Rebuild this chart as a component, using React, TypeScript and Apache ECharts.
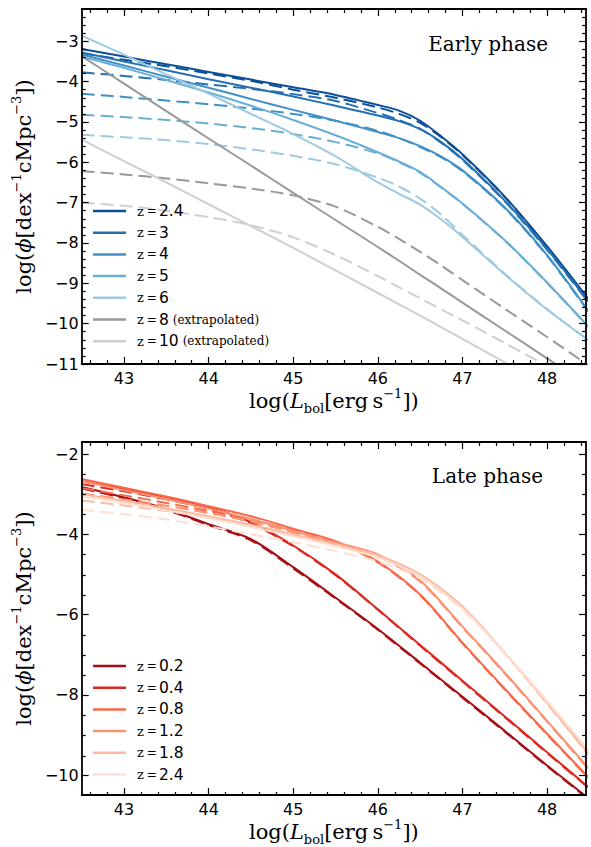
import React, { useEffect, useRef } from "react";
import * as echarts from "echarts";

// ---------- axes / ticks ----------
const X_MIN = 42.5;
const X_MAX = 48.46;
const X_TICKS = [43, 44, 45, 46, 47, 48];
const YE_MIN = -11;
const YE_MAX = -2.2;
const YE_TICKS = [-3, -4, -5, -6, -7, -8, -9, -10, -11];
const YL_MIN = -10.5;
const YL_MAX = -1.7;
const YL_TICKS = [-2, -4, -6, -8, -10];

// ---------- Early phase ----------
const L_EARLY = [42.5, 43, 43.5, 44, 44.5, 45, 45.5, 46, 46.25, 46.5, 46.75, 47, 47.5, 48, 48.5];
const EARLY_Z = ["2.4", "3", "4", "5", "6", "8", "10"];
const EARLY_EXTRAP = [false, false, false, false, false, true, true];
const EARLY_COLORS = ["#0b4f98", "#2470b3", "#4191c6", "#6aaed6", "#9ecae1", "#999999", "#cfcfcf"];
const E_Z24_SOLID = [-3.19, -3.38, -3.57, -3.76, -3.95, -4.14, -4.33, -4.58, -4.72, -4.97, -5.36, -5.8, -6.85, -8.08, -9.42];
const E_Z24_DASH = [-3.3, -3.46, -3.62, -3.8, -3.98, -4.2, -4.4, -4.64, -4.8, -5.02, -5.38, -5.82, -6.86, -8.1, -9.44];
const E_Z3_SOLID = [-3.28, -3.5, -3.72, -3.94, -4.15, -4.37, -4.6, -4.84, -4.98, -5.18, -5.5, -5.92, -6.95, -8.15, -9.48];
const E_Z3_DASH = [-3.77, -3.86, -3.96, -4.07, -4.18, -4.31, -4.48, -4.78, -4.95, -5.17, -5.52, -5.94, -6.97, -8.17, -9.5];
const E_Z4_SOLID = [-3.33, -3.6, -3.88, -4.15, -4.43, -4.7, -4.97, -5.25, -5.4, -5.6, -5.86, -6.2, -7.12, -8.3, -9.72];
const E_Z4_DASH = [-4.3, -4.38, -4.47, -4.56, -4.67, -4.8, -4.97, -5.22, -5.4, -5.62, -5.88, -6.22, -7.14, -8.32, -9.74];
const E_Z5_SOLID = [-3.38, -3.66, -3.96, -4.27, -4.6, -4.95, -5.33, -5.75, -5.98, -6.24, -6.62, -7.02, -7.93, -8.98, -10.1];
const E_Z5_DASH = [-4.82, -4.88, -4.95, -5.04, -5.15, -5.3, -5.5, -5.78, -6.0, -6.26, -6.63, -7.03, -7.94, -8.99, -10.11];
const E_Z6_SOLID = [-2.86, -3.33, -3.82, -4.3, -4.8, -5.3, -5.85, -6.5, -6.78, -7.05, -7.42, -7.85, -8.78, -9.65, -10.43];
const E_Z6_DASH = [-5.32, -5.38, -5.45, -5.55, -5.68, -5.84, -6.05, -6.38, -6.6, -6.9, -7.3, -7.8, -8.76, -9.64, -10.42];
const E_Z8_SOLID = [-3.37, -4.05, -4.73, -5.41, -6.08, -6.76, -7.43, -8.1, -8.44, -8.79, -9.13, -9.48, -10.17, -10.86, -11.55];
const E_Z8_DASH = [-6.22, -6.3, -6.4, -6.52, -6.65, -6.82, -7.1, -7.6, -7.9, -8.22, -8.56, -8.92, -9.63, -10.33, -11.05];
const E_Z10_SOLID = [-5.44, -5.97, -6.5, -7.04, -7.58, -8.12, -8.68, -9.24, -9.52, -9.8, -10.09, -10.38, -10.96, -11.55, -12.1];
const E_Z10_DASH = [-7.0, -7.08, -7.2, -7.36, -7.56, -7.86, -8.3, -8.82, -9.1, -9.37, -9.65, -9.92, -10.48, -11.05, -11.6];

// ---------- Late phase ----------
const L_LATE = [42.5, 43, 43.5, 44, 44.5, 45, 45.5, 46, 46.5, 47, 47.5, 48, 48.5];
const LATE_Z = ["0.2", "0.4", "0.8", "1.2", "1.8", "2.4"];
const LATE_COLORS = ["#a50f15", "#da2a23", "#f8694a", "#fb9272", "#fcbba1", "#fee0d2"];
const L_Z02_SOLID = [-2.82, -3.08, -3.37, -3.75, -4.12, -4.82, -5.58, -6.36, -7.2, -8.05, -8.9, -9.76, -10.6];
const L_Z02_DASH = [-2.86, -3.1, -3.39, -3.77, -4.15, -4.85, -5.6, -6.38, -7.22, -8.07, -8.92, -9.78, -10.62];
const L_Z04_SOLID = [-2.68, -2.87, -3.08, -3.32, -3.7, -4.28, -5.0, -5.87, -6.76, -7.65, -8.54, -9.43, -10.32];
const L_Z04_DASH = [-2.75, -2.93, -3.13, -3.37, -3.73, -4.3, -5.02, -5.88, -6.78, -7.67, -8.56, -9.45, -10.34];
const L_Z08_SOLID = [-2.62, -2.84, -3.06, -3.3, -3.55, -3.86, -4.17, -4.68, -5.5, -6.7, -7.85, -8.97, -10.08];
const L_Z08_DASH = [-2.85, -3.03, -3.22, -3.42, -3.64, -3.9, -4.2, -4.7, -5.52, -6.72, -7.87, -8.99, -10.1];
const L_Z12_SOLID = [-2.68, -2.9, -3.12, -3.36, -3.62, -3.92, -4.2, -4.5, -5.15, -6.3, -7.45, -8.65, -9.85];
const L_Z12_DASH = [-2.98, -3.13, -3.29, -3.47, -3.68, -3.95, -4.24, -4.55, -5.18, -6.32, -7.47, -8.67, -9.88];
const L_Z18_SOLID = [-3.0, -3.17, -3.35, -3.55, -3.76, -4.0, -4.25, -4.52, -5.0, -5.8, -6.95, -8.2, -9.5];
const L_Z18_DASH = [-3.16, -3.28, -3.42, -3.58, -3.78, -4.02, -4.27, -4.55, -5.02, -5.82, -6.97, -8.22, -9.52];
const L_Z24_SOLID = [-3.05, -3.22, -3.4, -3.6, -3.82, -4.05, -4.3, -4.58, -5.05, -5.85, -6.95, -8.15, -9.4];
const L_Z24_DASH = [-3.39, -3.5, -3.63, -3.8, -4.0, -4.2, -4.42, -4.68, -5.1, -5.88, -6.97, -8.17, -9.42];

const EARLY_SOLID = [E_Z24_SOLID, E_Z3_SOLID, E_Z4_SOLID, E_Z5_SOLID, E_Z6_SOLID, E_Z8_SOLID, E_Z10_SOLID];
const EARLY_DASH = [E_Z24_DASH, E_Z3_DASH, E_Z4_DASH, E_Z5_DASH, E_Z6_DASH, E_Z8_DASH, E_Z10_DASH];
const LATE_SOLID = [L_Z02_SOLID, L_Z04_SOLID, L_Z08_SOLID, L_Z12_SOLID, L_Z18_SOLID, L_Z24_SOLID];
const LATE_DASH = [L_Z02_DASH, L_Z04_DASH, L_Z08_DASH, L_Z12_DASH, L_Z18_DASH, L_Z24_DASH];

// minor tick positions
const X_MINOR: number[] = [];
for (let k = 213; k <= 242; k++) if (k % 5 !== 0) X_MINOR.push(Math.round(k * 2) / 10);
const YE_MINOR: number[] = [];
for (let k = -54; k <= -12; k++) if (k % 5 !== 0) YE_MINOR.push(Math.round(k * 2) / 10);
const YL_MINOR: number[] = [];
for (let k = -20; k <= -4; k++) if (k % 4 !== 0) YL_MINOR.push(k / 2);

const SERIF = "DejaVu Serif";
const SANS = "DejaVu Sans";

const fmtNum = (v: number) => (v < 0 ? "\u2212" + String(Math.abs(v)) : String(v));

const NAME_RICH = {
  a: { fontFamily: SERIF, fontSize: 21, lineHeight: 28, color: "#000" },
  i: { fontFamily: SERIF, fontStyle: "italic", fontSize: 21, lineHeight: 28, color: "#000" },
  s: { fontFamily: SERIF, fontSize: 13, lineHeight: 13, verticalAlign: "top", color: "#000" },
  b: { fontFamily: SERIF, fontSize: 13, lineHeight: 16, verticalAlign: "bottom", color: "#000" },
};
const X_NAME = "{a|log(}{i|L}{b|bol}{a|[erg\u2009s}{s|\u22121}{a|])}";
const Y_NAME = "{a|log(}{i|\u03d5}{a|[dex}{s|\u22121}{a|cMpc}{s|\u22123}{a|])}";

function xAxis(gridIndex: number, position: string, ticks: number[], len: number, line: boolean, label: boolean) {
  return {
    type: "value",
    gridIndex,
    position,
    min: X_MIN,
    max: X_MAX,
    z: 5,
    axisLine: { show: line, onZero: false, lineStyle: { color: "#000", width: 1.8 } },
    axisTick: { show: true, inside: true, length: len, customValues: ticks, lineStyle: { color: "#000", width: 1.2 } },
    axisLabel: { show: label, customValues: ticks, margin: 6, fontFamily: SANS, fontSize: 16, color: "#000", formatter: fmtNum },
    splitLine: { show: false },
    minorTick: { show: false },
    name: label ? X_NAME : "",
    nameLocation: "middle",
    nameGap: 22,
    nameTextStyle: { rich: NAME_RICH },
  };
}

function yAxis(gridIndex: number, position: string, min: number, max: number, ticks: number[], len: number, line: boolean, label: boolean) {
  return {
    type: "value",
    gridIndex,
    position,
    min,
    max,
    z: 5,
    axisLine: { show: line, onZero: false, lineStyle: { color: "#000", width: 1.8 } },
    axisTick: { show: true, inside: true, length: len, customValues: ticks, lineStyle: { color: "#000", width: 1.2 } },
    axisLabel: { show: label, customValues: ticks, margin: 3, fontFamily: SANS, fontSize: 16, color: "#000", formatter: fmtNum },
    splitLine: { show: false },
    minorTick: { show: false },
    name: label ? Y_NAME : "",
    nameLocation: "middle",
    nameRotate: 90,
    nameGap: 39,
    nameTextStyle: { rich: NAME_RICH },
  };
}

function lineSeries(name: string, xs: number[], ys: number[], color: string, dashed: boolean, axisIdx: number) {
  return {
    type: "line",
    name,
    xAxisIndex: axisIdx,
    yAxisIndex: axisIdx,
    data: xs.map((x, i) => [x, ys[i]]),
    symbol: "none",
    showSymbol: false,
    smooth: 0.3,
    clip: true,
    silent: true,
    lineStyle: { color, width: 2, type: dashed ? [13, 6] : "solid" },
    itemStyle: { color },
    emphasis: { disabled: true },
  };
}

const LEGEND_RICH = {
  z: { fontFamily: SERIF, fontSize: 13, lineHeight: 14, color: "#000", padding: [0, 3, 0, 6] },
  q: { fontFamily: SERIF, fontSize: 12, lineHeight: 14, color: "#000", padding: [0, 2, 0, 0] },
  n: { fontFamily: SANS, fontSize: 15.5, lineHeight: 14, color: "#000" },
  e: { fontFamily: SERIF, fontSize: 12, lineHeight: 14, color: "#000", padding: [0, 0, 0, 4] },
};

function buildOption() {
  const series: any[] = [];
  const earlyNames: string[] = [];
  EARLY_Z.forEach((z, i) => {
    const nm = "early-" + i;
    earlyNames.push(nm);
    series.push(lineSeries(nm, L_EARLY, EARLY_SOLID[i], EARLY_COLORS[i], false, 0));
    series.push(lineSeries("early-dash-" + i, L_EARLY, EARLY_DASH[i], EARLY_COLORS[i], true, 0));
  });
  const lateNames: string[] = [];
  LATE_Z.forEach((z, i) => {
    const nm = "late-" + i;
    lateNames.push(nm);
    series.push(lineSeries(nm, L_LATE, LATE_SOLID[i], LATE_COLORS[i], false, 1));
    series.push(lineSeries("late-dash-" + i, L_LATE, LATE_DASH[i], LATE_COLORS[i], true, 1));
  });

  const legendFormatter = (name: string) => {
    const parts = name.split("-");
    const idx = Number(parts[1]);
    if (parts[0] === "early") {
      return "{z|z}{q|=}{n|" + EARLY_Z[idx] + "}" + (EARLY_EXTRAP[idx] ? "{e|(extrapolated)}" : "");
    }
    return "{z|z}{q|=}{n|" + LATE_Z[idx] + "}";
  };

  const legendBase = {
    orient: "vertical",
    left: 93,
    padding: 0,
    itemGap: 5.7,
    itemWidth: 33,
    itemHeight: 2.5,
    icon: "rect",
    selectedMode: false,
    itemStyle: { borderWidth: 0 },
    textStyle: { color: "#000", lineHeight: 14, rich: LEGEND_RICH },
    formatter: legendFormatter,
  };

  return {
    animation: false,
    backgroundColor: "#fff",
    title: [
      {
        text: "Early phase",
        right: 43,
        top: 34,
        padding: 0,
        textStyle: { fontFamily: SERIF, fontSize: 20, fontWeight: "normal", color: "#000", lineHeight: 20 },
      },
      {
        text: "Late phase",
        right: 48,
        top: 466,
        padding: 0,
        textStyle: { fontFamily: SERIF, fontSize: 20, fontWeight: "normal", color: "#000", lineHeight: 20 },
      },
    ],
    legend: [
      { ...legendBase, top: 203, data: earlyNames },
      { ...legendBase, top: 658, data: lateNames },
    ],
    grid: [
      { left: 81.7, top: 9, width: 504.3, height: 355 },
      { left: 81.7, top: 442, width: 504.3, height: 354 },
      { left: 81.7, top: 9, width: 504.3, height: 355 },
      { left: 81.7, top: 442, width: 504.3, height: 354 },
    ],
    xAxis: [
      xAxis(0, "bottom", X_TICKS, 7, true, true),
      xAxis(1, "bottom", X_TICKS, 7, true, true),
      xAxis(0, "top", X_TICKS, 7, true, false),
      xAxis(1, "top", X_TICKS, 7, true, false),
      xAxis(2, "bottom", X_MINOR, 4, false, false),
      xAxis(2, "top", X_MINOR, 4, false, false),
      xAxis(3, "bottom", X_MINOR, 4, false, false),
      xAxis(3, "top", X_MINOR, 4, false, false),
    ],
    yAxis: [
      yAxis(0, "left", YE_MIN, YE_MAX, YE_TICKS, 7, true, true),
      yAxis(1, "left", YL_MIN, YL_MAX, YL_TICKS, 7, true, true),
      yAxis(0, "right", YE_MIN, YE_MAX, YE_TICKS, 7, true, false),
      yAxis(1, "right", YL_MIN, YL_MAX, YL_TICKS, 7, true, false),
      yAxis(2, "left", YE_MIN, YE_MAX, YE_MINOR, 4, false, false),
      yAxis(2, "right", YE_MIN, YE_MAX, YE_MINOR, 4, false, false),
      yAxis(3, "left", YL_MIN, YL_MAX, YL_MINOR, 4, false, false),
      yAxis(3, "right", YL_MIN, YL_MAX, YL_MINOR, 4, false, false),
    ],
    series,
  };
}

export default function App() {
  const ref = useRef<HTMLDivElement>(null);
  useEffect(() => {
    document.body.style.margin = "0";
    const chart = echarts.init(ref.current as HTMLDivElement, null, { renderer: "svg" });
    chart.setOption(buildOption() as any);
    return () => chart.dispose();
  }, []);
  return <div ref={ref} style={{ position: "absolute", left: 0, top: 0, width: 591, height: 847 }} />;
}
